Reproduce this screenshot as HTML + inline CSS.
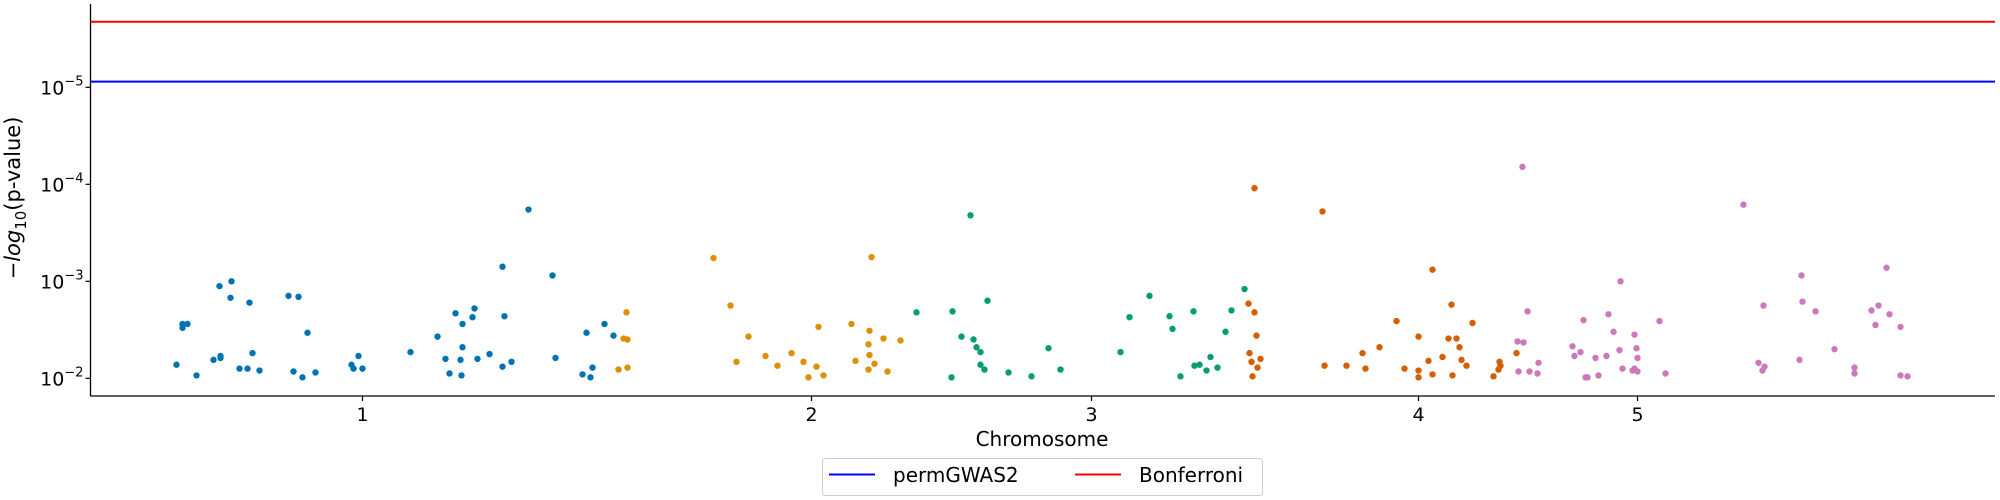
<!DOCTYPE html>
<html><head><meta charset="utf-8"><style>
html,body{margin:0;padding:0;background:#fff;}
svg{display:block;font-family:"DejaVu Sans","Liberation Sans",sans-serif;}
</style></head><body>
<svg id="chart" width="2000" height="500" viewBox="0 0 2000 500">
<g id="axes"></g>
<g id="points"></g>
<g id="thresholds"></g>
<text x="20" y="198" transform="rotate(-90 20 198)" text-anchor="middle" font-size="21">−<tspan font-style="italic">log</tspan><tspan font-size="15" dy="6">10</tspan><tspan dy="-6">(p-value)</tspan></text>
<text x="1042" y="446" text-anchor="middle" font-size="20">Chromosome</text>
<g>
<rect x="822.5" y="458.5" width="440" height="37" rx="3" fill="#fff" stroke="#ccc" stroke-width="1"/>
<line x1="829" x2="875" y1="474.5" y2="474.5" stroke="#0000ff" stroke-width="2"/>
<text x="893" y="482" font-size="20">permGWAS2</text>
<line x1="1075" x2="1121" y1="474.5" y2="474.5" stroke="#ff0000" stroke-width="2"/>
<text x="1139" y="482" font-size="20">Bonferroni</text>
</g>
</svg>
<script>
const chrColors = ["#0173b2","#de8f05","#029e73","#d55e00","#cc78bc"];
const chrTicks = [272, 721, 1001, 1328, 1547];
const chrTickLabels = ["1","2","3","4","5"];
const yTicks = [-5,-4,-3,-2];
const yTickLabels = ["−5","−4","−3","−2"];
const thresholdValues = [-5.058, -5.676];
const thresholdColors = ["#0000ff","#ff0000"];
const thresholdNames = ["permgwas2-threshold","bonferroni-threshold"];
const chr1 = [[86,-2.14],[92,-2.52],[92,-2.56],[97,-2.56],[106,-2.03],[123,-2.19],[129,-2.95],[130,-2.21],[130,-2.23],[140,-2.83],[141,-3.00],[149,-2.10],[157,-2.10],[159,-2.78],[162,-2.26],[169,-2.08],[198,-2.85],[203,-2.07],[208,-2.84],[212,-2.01],[217,-2.47],[225,-2.06],[261,-2.14],[263,-2.10],[268,-2.23],[272,-2.10],[320,-2.27],[347,-2.43],[355,-2.20],[359,-2.05],[365,-2.67],[370,-2.19],[371,-2.03],[372,-2.56],[372,-2.32],[382,-2.63],[384,-2.72],[387,-2.20],[399,-2.25],[412,-3.15],[412,-2.12],[414,-2.64],[421,-2.17],[438,-3.74],[462,-3.06],[465,-2.21],[492,-2.04],[496,-2.47],[500,-2.01],[502,-2.11],[514,-2.56],[523,-2.44]];
const chr2 = [[528,-2.09],[533,-2.41],[537,-2.40],[536,-2.68],[537,-2.11],[623,-3.24],[640,-2.75],[646,-2.17],[658,-2.43],[675,-2.23],[687,-2.13],[701,-2.26],[713,-2.17],[718,-2.01],[726,-2.12],[728,-2.53],[733,-2.03],[761,-2.56],[765,-2.18],[778,-2.09],[778,-2.35],[779,-2.49],[779,-2.24],[781,-3.25],[784,-2.15],[793,-2.41],[797,-2.07],[810,-2.39]];
const chr3 = [[826,-2.68],[861,-2.01],[862,-2.69],[871,-2.43],[880,-3.68],[883,-2.40],[886,-2.32],[890,-2.27],[890,-2.14],[894,-2.09],[897,-2.80],[918,-2.06],[941,-2.02],[958,-2.31],[970,-2.09],[1030,-2.27],[1039,-2.63],[1059,-2.85],[1079,-2.64],[1082,-2.51],[1090,-2.02],[1103,-2.69],[1104,-2.13],[1109,-2.14],[1116,-2.08],[1120,-2.22],[1127,-2.11],[1135,-2.48],[1141,-2.70],[1154,-2.92]];
const chr4 = [[1158,-2.77],[1159,-2.26],[1161,-2.17],[1162,-2.02],[1164,-3.96],[1164,-2.68],[1166,-2.44],[1167,-2.11],[1170,-2.20],[1232,-3.72],[1234,-2.13],[1256,-2.13],[1272,-2.26],[1275,-2.10],[1289,-2.32],[1306,-2.59],[1314,-2.10],[1328,-2.43],[1328,-2.08],[1328,-2.01],[1338,-2.18],[1342,-2.04],[1342,-3.12],[1352,-2.22],[1358,-2.41],[1361,-2.76],[1362,-2.03],[1366,-2.41],[1369,-2.32],[1371,-2.19],[1376,-2.13],[1382,-2.57],[1403,-2.02],[1408,-2.09],[1409,-2.17],[1410,-2.13],[1426,-2.26]];
const chr5 = [[1427,-2.38],[1428,-2.07],[1432,-4.18],[1433,-2.37],[1437,-2.69],[1439,-2.07],[1447,-2.05],[1448,-2.16],[1482,-2.33],[1484,-2.23],[1490,-2.27],[1493,-2.60],[1495,-2.01],[1497,-2.01],[1505,-2.21],[1508,-2.03],[1516,-2.23],[1518,-2.66],[1523,-2.48],[1529,-2.29],[1530,-3.00],[1532,-2.10],[1542,-2.08],[1544,-2.45],[1544,-2.10],[1546,-2.31],[1547,-2.21],[1547,-2.07],[1569,-2.59],[1575,-2.05],[1653,-3.79],[1668,-2.16],[1672,-2.08],[1673,-2.75],[1674,-2.12],[1709,-2.19],[1711,-3.06],[1712,-2.79],[1725,-2.69],[1744,-2.30],[1764,-2.11],[1764,-2.05],[1781,-2.70],[1785,-2.55],[1788,-2.75],[1796,-3.14],[1799,-2.66],[1810,-2.03],[1810,-2.53],[1817,-2.02]];
const chrData = [chr1, chr2, chr3, chr4, chr5];

const NS = "http://www.w3.org/2000/svg";
const X0 = 90.5, X1 = 1995, Y0 = 4, Y1 = 396;
function xs(v){ return X0 + v * (X1 - X0) / 1904.5; }
function ys(e){ return 378.3 + (e + 2) * 97; }
function mk(tag, attrs, parent){ const el = document.createElementNS(NS, tag); for (const k in attrs) el.setAttribute(k, attrs[k]); parent.appendChild(el); return el; }

const axes = document.getElementById("axes");
let l = mk("line", {x1:X0, x2:X0, y1:Y0, y2:Y1, stroke:"#000", "stroke-width":1.3}, axes);


l = mk("line", {x1:X0, x2:X1, y1:Y1, y2:Y1, stroke:"#000", "stroke-width":1.3}, axes);


yTicks.forEach((t, i) => {
  const y = ys(t);
  const tk = mk("line", {x1:X0-5, x2:X0, y1:y, y2:y, stroke:"#000", "stroke-width":1.2}, axes);
  
  
  const tx = mk("text", {x:X0-7, y:y+7, "text-anchor":"end", "font-size":19}, axes);
  
  
  tx.textContent = "10";
  const sup = mk("tspan", {"font-size":13, dy:-9}, tx);
  sup.textContent = yTickLabels[i];
});
chrTicks.forEach((t, i) => {
  const x = xs(t);
  const tk = mk("line", {x1:x, x2:x, y1:Y1, y2:Y1+5, stroke:"#000", "stroke-width":1.2}, axes);
  
  
  const tx = mk("text", {x:x, y:421, "text-anchor":"middle", "font-size":19}, axes);
  
  
  tx.textContent = chrTickLabels[i];
});

const pts = document.getElementById("points");
chrData.forEach((arr, ci) => {
  arr.forEach(p => {
    const c = mk("circle", {cx:xs(p[0]), cy:ys(p[1]), r:3.2, fill:chrColors[ci]}, pts);
    
    
  });
});

const th = document.getElementById("thresholds");
thresholdValues.forEach((v, i) => {
  const y = ys(v);
  const ln = mk("line", {x1:X0, x2:X1, y1:y, y2:y, stroke:thresholdColors[i], "stroke-width":2}, th);
  
  
});
</script>
</body></html>
